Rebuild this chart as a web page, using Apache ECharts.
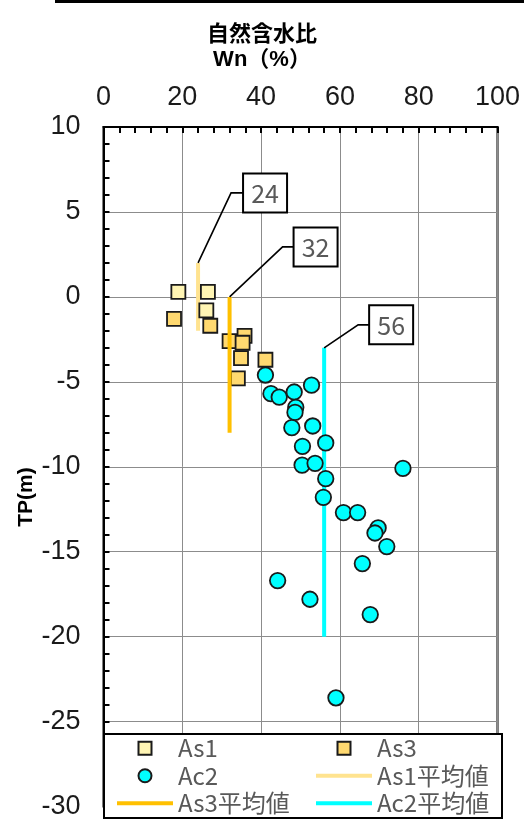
<!DOCTYPE html>
<html>
<head>
<meta charset="utf-8">
<script src="https://cdn.jsdelivr.net/npm/echarts@6/dist/echarts.min.js"></script>
<style>
  html, body { margin: 0; padding: 0; background: #fff; }
  #chart { width: 524px; height: 820px; }
</style>
</head>
<body>
<div id="chart"></div>
<script>
// Natural water content (Wn, %) versus elevation TP (m) by layer
const as1Wn = [19.0, 26.5, 26.1];
const as1Tp = [0.3, 0.3, -0.8];

const as3Wn = [17.9, 27.1, 32.0, 35.8, 35.3, 34.9, 41.1, 34.1];
const as3Tp = [-1.3, -1.7, -2.6, -2.3, -2.7, -3.6, -3.7, -4.8];

const ac2Wn = [41.1, 52.8, 42.5, 44.6, 48.4, 48.8, 48.6, 47.8, 53.1, 50.5, 56.4, 50.4, 53.7,
               56.4, 76.0, 55.8, 60.9, 64.5, 69.7, 68.9, 71.9, 65.7, 52.4, 67.7, 44.2, 59.0];
const ac2Tp = [-4.6, -5.2, -5.7, -5.9, -5.6, -6.5, -6.8, -7.7, -7.6, -8.8, -8.6, -9.9, -9.8,
               -10.7, -10.1, -11.8, -12.7, -12.7, -13.6, -13.9, -14.7, -15.7, -17.8, -18.7, -16.7, -23.6];

// Layer mean values and the depth range each mean line spans
const meanNames = ['As1平均値', 'As3平均値', 'Ac2平均値'];
const meanWn = [24, 32, 56];
const meanTop = [2, 0, -3];
const meanBottom = [-2, -8, -20];

// Axis ranges
const xMin = 0, xMax = 100, xStep = 20;
const yMin = -30, yMax = 10, yStep = 5;

// Styling / layout
const meanColors = ['#FFE38F', '#FFC000', '#00FFFF'];
const calloutLayout = [
  { bendDx: 33, bendDy: -70, boxDx: 45 },
  { bendDx: 53, bendDy: -50, boxDx: 64 },
  { bendDx: 34, bendDy: -23, boxDx: 45 }
];
const SQUARE = 'path://M0,0H10V10H0Z';
const BAR = 'path://M0,0H14V1H0Z';
const numFont = '"Liberation Sans Narrow", "Liberation Sans", Arial, sans-serif';
const legendFont = '"Noto Sans CJK JP", "Noto Sans", sans-serif';

const zip = (xs, ys) => xs.map((x, i) => [x, ys[i]]);

const chart = echarts.init(document.getElementById('chart'));

const meanSeries = meanNames.map((name, i) => ({
  name: name,
  type: 'line',
  data: [[meanWn[i], meanTop[i]], [meanWn[i], meanBottom[i]]],
  symbol: 'none',
  color: meanColors[i],
  lineStyle: { width: 4, color: meanColors[i] },
  z: i === 1 ? 4 : 2,
  silent: true
}));

const legendText = () => ({ fontFamily: legendFont, fontSize: 24, color: '#595959', lineHeight: 27.5 });

function valueAxis(extra) {
  return Object.assign({
    type: 'value',
    axisLine: { show: true, onZero: false, lineStyle: { color: '#000', width: 2 } },
    axisTick: { show: true, inside: true, length: 6, lineStyle: { color: '#000', width: 2 } },
    minorTick: { show: true, splitNumber: 5, length: 6, lineStyle: { color: '#000', width: 2 } },
    splitLine: { show: true, lineStyle: { color: '#8c8c8c', width: 1 } }
  }, extra);
}

chart.setOption({
  animation: false,
  title: [
    { text: '自然含水比', left: 'center', top: 17,
      textStyle: { fontFamily: '"Noto Sans CJK JP", sans-serif', fontSize: 22, fontWeight: 'bold', color: '#000' } },
    { text: 'Wn（%）', left: 'center', top: 44,
      textStyle: { fontFamily: '"Liberation Sans", "Noto Sans CJK JP", sans-serif', fontSize: 22, fontWeight: 'bold', color: '#000' } }
  ],
  grid: {
    left: 103.5, right: 26.5, top: 127, bottom: 6.5,
    show: true, borderColor: '#000', borderWidth: 2
  },
  xAxis: valueAxis({
    position: 'top', min: xMin, max: xMax, interval: xStep,
    axisLabel: { margin: 16, fontFamily: numFont, fontSize: 27, color: '#1a1a1a' }
  }),
  yAxis: valueAxis({
    min: yMin, max: yMax, interval: yStep,
    axisLabel: { margin: 23, fontFamily: numFont, fontSize: 27, color: '#1a1a1a' }
  }),
  legend: [
    {
      left: 117, top: 734.5, orient: 'vertical', padding: 0, itemGap: 0,
      itemWidth: 56, itemHeight: 13, selectedMode: false, textStyle: legendText(), z: 8,
      data: [
        { name: 'As1', icon: SQUARE },
        { name: 'Ac2', icon: 'circle' },
        { name: 'As3平均値', icon: BAR, itemStyle: { borderWidth: 0 } }
      ]
    },
    {
      left: 316, top: 734.5, orient: 'vertical', padding: 0, itemGap: 0,
      itemWidth: 56, itemHeight: 13, selectedMode: false, textStyle: legendText(), z: 8,
      data: [
        { name: 'As3', icon: SQUARE },
        { name: 'As1平均値', icon: BAR, itemStyle: { borderWidth: 0 } },
        { name: 'Ac2平均値', icon: BAR, itemStyle: { borderWidth: 0 } }
      ]
    }
  ],
  graphic: [
    { type: 'rect', left: 55, top: 0, z: 10, shape: { width: 469, height: 3 }, style: { fill: '#000' } },
    { type: 'rect', z: 7, shape: { x: 104, y: 734, width: 398, height: 84 },
      style: { fill: '#fff', stroke: '#000', lineWidth: 2 } },
    { type: 'text', z: 10, x: 26, y: 497, rotation: Math.PI / 2,
      style: { text: 'TP(m)', align: 'center', verticalAlign: 'middle',
               font: 'bold 21px "Liberation Sans", Arial, sans-serif', fill: '#000' } }
  ],
  series: [
    meanSeries[0],
    meanSeries[2],
    {
      name: 'As1', type: 'scatter', data: zip(as1Wn, as1Tp),
      symbol: SQUARE, symbolSize: 14, symbolKeepAspect: true, z: 3,
      itemStyle: { color: '#FFF5B4', borderColor: '#1a1a1a', borderWidth: 1.8, opacity: 1 }
    },
    {
      name: 'As3', type: 'scatter', data: zip(as3Wn, as3Tp),
      symbol: SQUARE, symbolSize: 14, symbolKeepAspect: true, z: 3,
      itemStyle: { color: '#FFD970', borderColor: '#1a1a1a', borderWidth: 1.8, opacity: 1 }
    },
    {
      name: 'Ac2', type: 'scatter', data: zip(ac2Wn, ac2Tp),
      symbol: 'circle', symbolSize: 15.5, z: 3,
      itemStyle: { color: '#00FFFF', borderColor: '#1a1a1a', borderWidth: 1.8, opacity: 1 }
    },
    meanSeries[1],
    {
      // Callout boxes stating each layer mean, with an elbow leader line
      type: 'custom', coordinateSystem: 'cartesian2d', clip: false, silent: true, z: 6,
      data: meanWn.map((v, i) => [v, meanTop[i]]),
      encode: { x: 0, y: 1 },
      renderItem: function (params, api) {
        const L = calloutLayout[params.dataIndex];
        const p = api.coord([api.value(0), api.value(1)]);
        const bx = p[0] + L.bendDx, by = p[1] + L.bendDy, ex = p[0] + L.boxDx;
        return {
          type: 'group',
          children: [
            { type: 'polyline', shape: { points: [p, [bx, by], [ex, by]] },
              style: { stroke: '#000', lineWidth: 1.6, fill: null } },
            { type: 'rect', shape: { x: ex, y: by - 19.5, width: 44, height: 39 },
              style: { fill: '#fff', stroke: '#000', lineWidth: 2 } },
            { type: 'text', style: { text: String(api.value(0)), x: ex + 22, y: by + 1,
              align: 'center', verticalAlign: 'middle', fontSize: 25,
              fontFamily: legendFont, fill: '#595959' } }
          ]
        };
      }
    }
  ]
});
</script>
</body>
</html>
